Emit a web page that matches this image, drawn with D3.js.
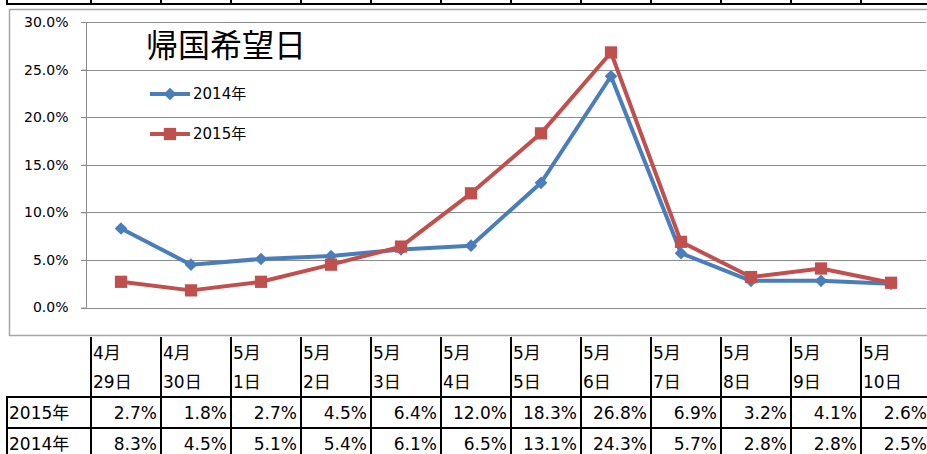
<!DOCTYPE html>
<html>
<head>
<meta charset="utf-8">
<script src="https://cdn.jsdelivr.net/npm/d3@7"></script>
<style>
  body { margin: 0; background: #fff; }
  text { font-family: "DejaVu Sans", "Noto Sans CJK JP", sans-serif; }
</style>
</head>
<body>
<div id="chart"></div>
<script>
// data
let months = ["4月", "4月", "5月", "5月", "5月", "5月", "5月", "5月", "5月", "5月", "5月", "5月"];
let days = ["29日", "30日", "1日", "2日", "3日", "4日", "5日", "6日", "7日", "8日", "9日", "10日"];
let categories = months.map((m, i) => m + days[i]);
let values2015 = [2.7, 1.8, 2.7, 4.5, 6.4, 12.0, 18.3, 26.8, 6.9, 3.2, 4.1, 2.6];
let values2014 = [8.3, 4.5, 5.1, 5.4, 6.1, 6.5, 13.1, 24.3, 5.7, 2.8, 2.8, 2.5];
let yTicks = [0, 5, 10, 15, 20, 25, 30];

let width = 927, height = 454;

let svg = d3.select("#chart")
    .append("svg")
    .attr("width", width)
    .attr("height", height);

let x = d3.scaleBand()
    .domain(categories)
    .range([86, 926]);

let y = d3.scaleLinear()
    .domain([0, 30])
    .range([307.5, 22]);

// table columns sit slightly right of the plot bands
let col = d3.scaleBand()
    .domain(categories)
    .range([91, 931]);

// excel-style diamond: a square turned 45 degrees
let diamond = {
    draw(ctx, size) {
        let r = Math.sqrt(size / 2);
        ctx.moveTo(0, -r);
        ctx.lineTo(r, 0);
        ctx.lineTo(0, r);
        ctx.lineTo(-r, 0);
        ctx.closePath();
    }
};

// remains of a table above the chart
svg.append("line")
    .attr("x1", 6).attr("x2", width)
    .attr("y1", 4).attr("y2", 4)
    .attr("stroke", "#000").attr("stroke-width", 2);
svg.selectAll("line.topv")
    .data([7].concat(categories.map(c => col(c))))
    .enter().append("line")
    .attr("class", "topv")
    .attr("x1", d => d).attr("x2", d => d)
    .attr("y1", 0).attr("y2", 5)
    .attr("stroke", "#000").attr("stroke-width", 2);

// chart frame
svg.append("rect")
    .attr("x", 9.5).attr("y", 9.5)
    .attr("width", 940).attr("height", 326)
    .attr("fill", "#fff")
    .attr("stroke", "#a6a6a6")
    .attr("stroke-width", 1.5);

// gridlines
svg.append("g")
    .selectAll("line")
    .data(yTicks)
    .enter().append("line")
    .attr("x1", 81).attr("x2", 926)
    .attr("y1", d => Math.round(y(d)) + 0.5)
    .attr("y2", d => Math.round(y(d)) + 0.5)
    .attr("stroke", "#8c8c8c");

let yAxis = svg.append("g")
    .attr("transform", "translate(86.5,0)")
    .call(d3.axisLeft(y).tickValues(yTicks).tickSize(5).tickPadding(13)
        .tickFormat(d => d.toFixed(1) + "%"));
yAxis.select(".domain").attr("stroke", "#8c8c8c").attr("d", `M0,${y(30)}V${y(0)}`);
yAxis.selectAll(".tick line").attr("stroke", "#8c8c8c");
yAxis.selectAll(".tick text")
    .style("font-size", "14px")
    .attr("fill", "#000");

let line = d3.line()
    .x((d, i) => x(categories[i]) + x.bandwidth() / 2)
    .y(d => y(d));

let series = [
    { name: "2014年", values: values2014, color: "#4a7ebb", symbol: diamond, size: 80 },
    { name: "2015年", values: values2015, color: "#c0504d", symbol: d3.symbolSquare, size: 150 }
];

series.forEach(s => {
    svg.append("path")
        .datum(s.values)
        .attr("d", line)
        .attr("fill", "none")
        .attr("stroke", s.color)
        .attr("stroke-width", 4)
        .attr("stroke-linejoin", "round");

    svg.selectAll(null)
        .data(s.values)
        .enter().append("path")
        .attr("d", d3.symbol().type(s.symbol).size(s.size))
        .attr("transform", (d, i) => `translate(${x(categories[i]) + x.bandwidth() / 2},${y(d)})`)
        .attr("fill", s.color);
});

// title
svg.append("text")
    .attr("x", 146).attr("y", 57)
    .text("帰国希望日")
    .style("font-size", "32px")
    .attr("fill", "#000");

// legend
let legend = svg.append("g")
    .attr("transform", "translate(150,94)");

legend.selectAll("g")
    .data(series)
    .enter().append("g")
    .attr("transform", (d, i) => `translate(0,${i * 40})`)
    .each(function(s) {
        let g = d3.select(this);
        g.append("line")
            .attr("x1", 0).attr("x2", 40)
            .attr("stroke", s.color).attr("stroke-width", 4);
        g.append("path")
            .attr("d", d3.symbol().type(s.symbol).size(s.size))
            .attr("transform", "translate(20,0)")
            .attr("fill", s.color);
        g.append("text")
            .attr("x", 43).attr("dy", "0.36em")
            .text(s.name)
            .style("font-size", "15px");
    });

// data table below the chart
let table = svg.append("g");

table.selectAll("text.month")
    .data(categories)
    .enter().append("text")
    .attr("x", d => col(d) + 2)
    .attr("y", 359)
    .text((d, i) => months[i])
    .style("font-size", "17px");

table.selectAll("text.day")
    .data(categories)
    .enter().append("text")
    .attr("x", d => col(d) + 2)
    .attr("y", 388)
    .text((d, i) => days[i])
    .style("font-size", "17px");

let rows = [
    { name: "2015年", values: values2015, y: 397 },
    { name: "2014年", values: values2014, y: 428 }
];

rows.forEach(r => {
    table.append("text")
        .attr("x", 9).attr("y", r.y + 22)
        .text(r.name)
        .style("font-size", "17px");
    table.selectAll(null)
        .data(r.values)
        .enter().append("text")
        .attr("x", (d, i) => col(categories[i]) + col.bandwidth() - 4)
        .attr("y", r.y + 22)
        .attr("text-anchor", "end")
        .text(d => d.toFixed(1) + "%")
        .style("font-size", "17px");
    table.append("line")
        .attr("x1", 6).attr("x2", width)
        .attr("y1", r.y).attr("y2", r.y)
        .attr("stroke", "#000").attr("stroke-width", 2);
});

table.append("line")
    .attr("x1", 7).attr("x2", 7)
    .attr("y1", 397).attr("y2", height)
    .attr("stroke", "#000").attr("stroke-width", 2);

table.selectAll("line.v")
    .data(categories)
    .enter().append("line")
    .attr("class", "v")
    .attr("x1", d => col(d)).attr("x2", d => col(d))
    .attr("y1", 337).attr("y2", height)
    .attr("stroke", "#000").attr("stroke-width", 2);
</script>
</body>
</html>
